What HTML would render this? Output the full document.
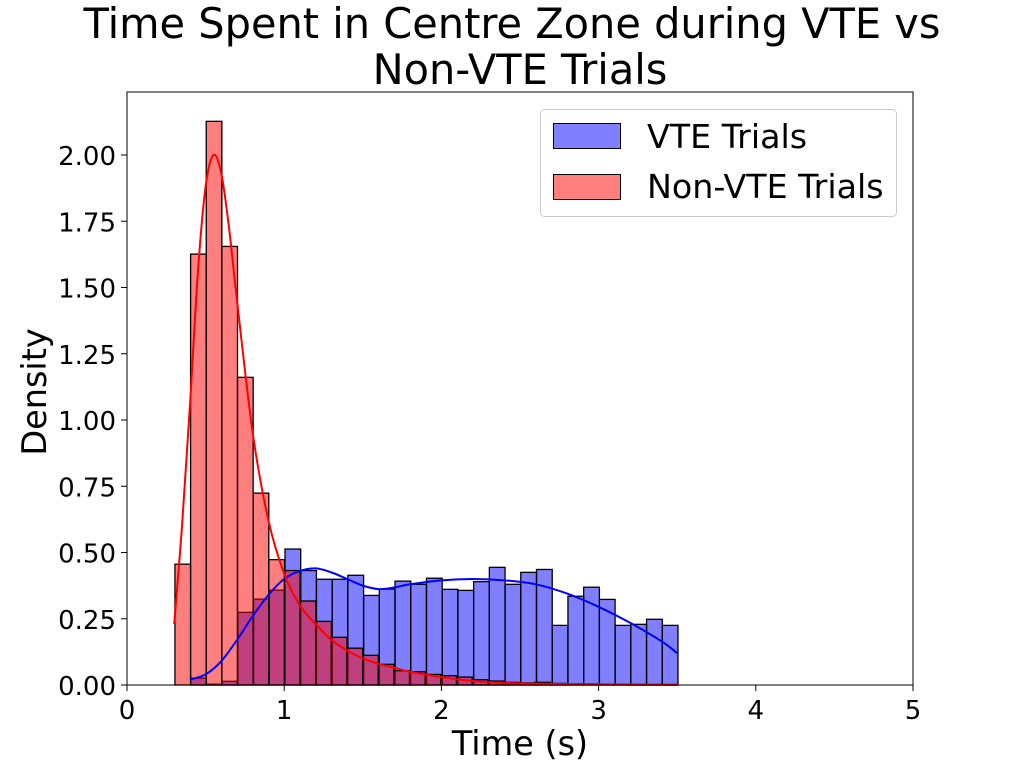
<!DOCTYPE html>
<html><head><meta charset="utf-8"><style>
body{margin:0;background:#fff;}
svg text{font-family:"DejaVu Sans","Liberation Sans",sans-serif;fill:#000;}
</style></head><body>
<svg id="chart" width="1015" height="770" viewBox="0 0 1015 770">
<text x="512" y="38" font-size="41.5" text-anchor="middle">Time Spent in Centre Zone during VTE vs</text>
<text x="520" y="84" font-size="41.5" text-anchor="middle">Non-VTE Trials</text>
<g id="plot"></g>
<text x="520" y="755" font-size="33.5" text-anchor="middle">Time (s)</text>
<text transform="translate(46,392) rotate(-90)" font-size="33.5" text-anchor="middle">Density</text>
<g>
<rect x="540.5" y="109.5" width="356" height="107" rx="4" fill="#fff" stroke="#ccc"/>
<rect x="553.5" y="123.5" width="67" height="25" fill="rgba(0,0,255,0.5)" stroke="#000"/>
<text x="647" y="148" font-size="33.3">VTE Trials</text>
<rect x="553.5" y="174.5" width="67" height="25" fill="rgba(255,0,0,0.5)" stroke="#000"/>
<text x="647" y="198" font-size="33.3">Non-VTE Trials</text>
</g>
</svg>
<script>
const xTicks=[0,1,2,3,4,5];
const yTicks=[0,0.25,0.5,0.75,1.0,1.25,1.5,1.75,2.0];
const redStart=0.305, redWidth=0.0995;
const redValues=[0.456,1.626,2.127,1.655,1.161,0.724,0.473,0.432,0.317,0.240,0.180,0.139,0.112,0.078,0.054,0.050,0.040,0.035,0.030,0.020,0.015,0.010,0.008,0.010,0.006,0.005,0.004,0.003,0.003,0.002,0.002,0.002];
const blueStart=0.405, blueWidth=0.1;
const blueValues=[0.026,0.003,0.014,0.274,0.324,0.358,0.513,0.432,0.399,0.399,0.414,0.338,0.362,0.392,0.380,0.403,0.361,0.357,0.390,0.444,0.380,0.425,0.436,0.225,0.335,0.369,0.323,0.225,0.229,0.248,0.225];
const redKdeX=[0.3,0.35,0.4,0.45,0.5,0.55,0.6,0.65,0.7,0.8,0.9,1.0,1.1,1.2,1.3,1.4,1.5,1.6,1.7,1.8,2.0,2.2,2.5,3.0,3.5];
const redKdeY=[0.23,0.6,1.05,1.55,1.88,2.0,1.93,1.72,1.45,0.95,0.62,0.42,0.30,0.23,0.17,0.13,0.10,0.08,0.065,0.05,0.03,0.015,0.006,0.003,0.0];
const blueKdeX=[0.4,0.5,0.6,0.7,0.8,0.9,1.0,1.1,1.2,1.3,1.4,1.5,1.6,1.7,1.8,2.0,2.2,2.4,2.6,2.8,3.0,3.2,3.4,3.5];
const blueKdeY=[0.02,0.04,0.09,0.17,0.26,0.34,0.40,0.43,0.44,0.425,0.40,0.375,0.362,0.368,0.38,0.395,0.40,0.395,0.38,0.345,0.295,0.235,0.165,0.12];

const X0=127,X1=913,Y0=685,Y1=92;
const sx=v=>X0+v*(X1-X0)/5;
const sy=v=>Y0-v*265;
const NS='http://www.w3.org/2000/svg';
const g=document.getElementById('plot');
function mk(tag,attrs){const e=document.createElementNS(NS,tag);for(const k in attrs)e.setAttribute(k,attrs[k]);g.appendChild(e);return e;}
function bars(start,w,vals,fill,name){
  vals.forEach((v,i)=>{
    const r=mk('rect',{x:sx(start+i*w),y:sy(v),width:sx(start+(i+1)*w)-sx(start+i*w),height:Y0-sy(v),fill:fill,stroke:'#000','stroke-width':1.3});
    
    
  });
}
function smooth(xs,ys){
  const p=xs.map((x,i)=>[sx(x),sy(ys[i])]);
  let d='M'+p[0][0]+','+p[0][1];
  for(let i=0;i<p.length-1;i++){
    const a=p[i-1]||p[i],b=p[i],c=p[i+1],e=p[i+2]||c;
    d+=' C'+(b[0]+(c[0]-a[0])/6)+','+(b[1]+(c[1]-a[1])/6)+' '+(c[0]-(e[0]-b[0])/6)+','+(c[1]-(e[1]-b[1])/6)+' '+c[0]+','+c[1];
  }
  return d;
}
bars(blueStart,blueWidth,blueValues,'rgba(0,0,255,0.5)','vte-bar');
bars(redStart,redWidth,redValues,'rgba(255,0,0,0.5)','nonvte-bar');
const bl=mk('path',{d:smooth(blueKdeX,blueKdeY),fill:'none',stroke:'#00f','stroke-width':2});


const rl=mk('path',{d:smooth(redKdeX,redKdeY),fill:'none',stroke:'#f00','stroke-width':2});


const fr=mk('rect',{x:X0,y:Y1,width:X1-X0,height:Y0-Y1,fill:'none',stroke:'#000','stroke-width':1});


xTicks.forEach(t=>{
  mk('line',{x1:sx(t),x2:sx(t),y1:Y0,y2:Y0+6,stroke:'#000'});
  const tx=mk('text',{x:sx(t),y:Y0+34,'font-size':26,'text-anchor':'middle'});
  tx.textContent=t;
  
  
});
yTicks.forEach(t=>{
  mk('line',{x1:X0-6,x2:X0,y1:sy(t),y2:sy(t),stroke:'#000'});
  const tx=mk('text',{x:X0-11,y:sy(t)+10,'font-size':26,'text-anchor':'end'});
  tx.textContent=t.toFixed(2);
  
  
});
</script>
</body></html>
